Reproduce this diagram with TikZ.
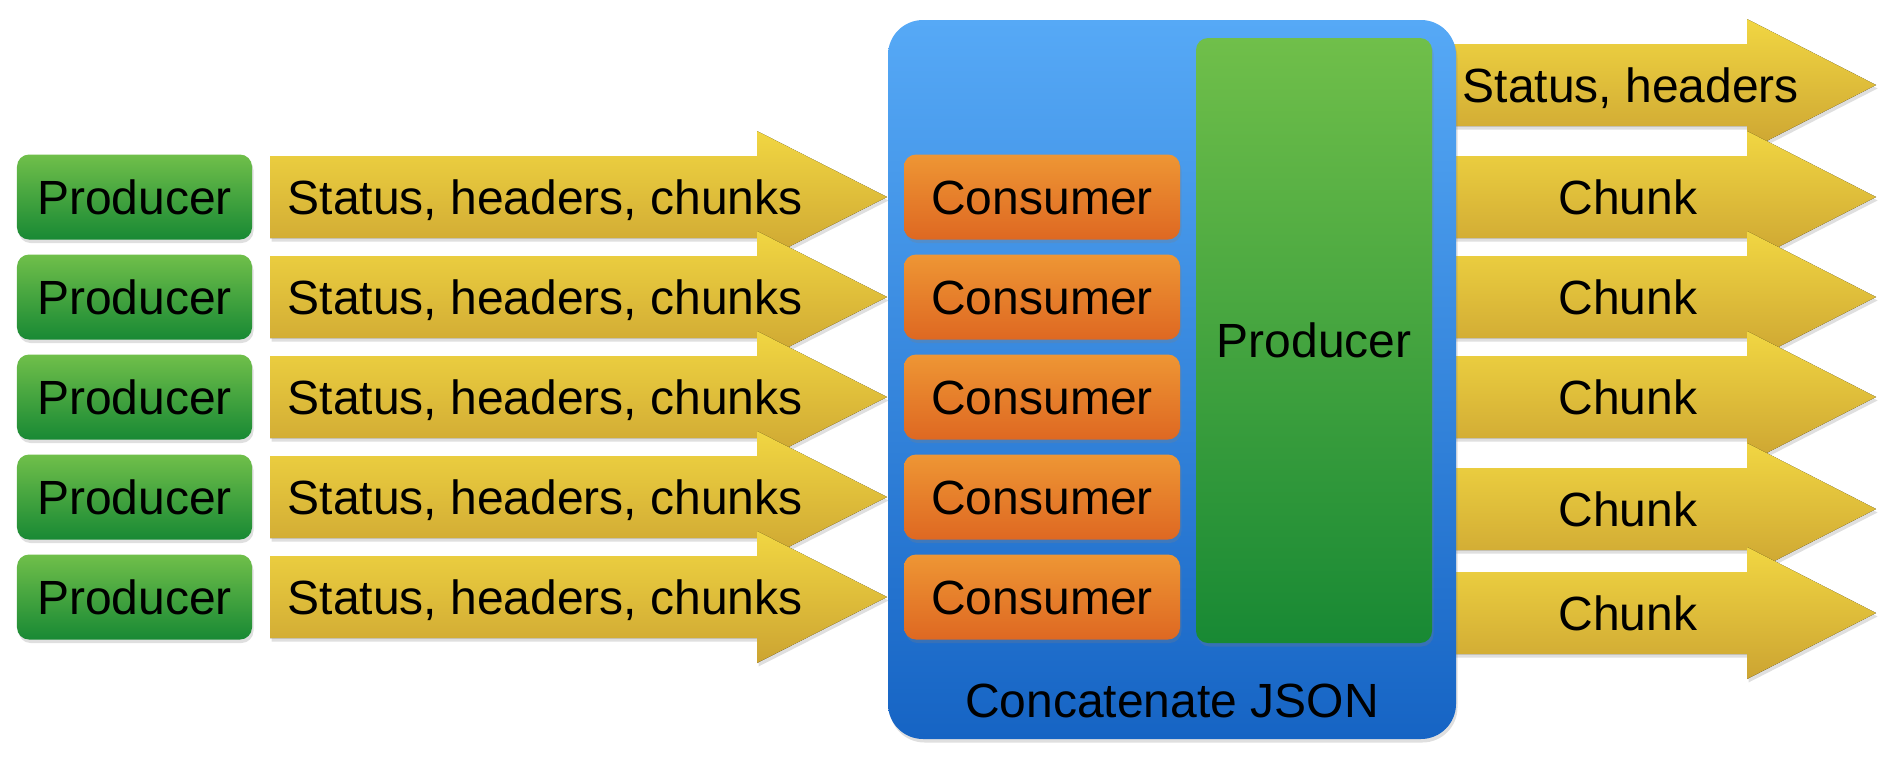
\documentclass[tikz,border=0pt]{standalone}
\usepackage{fontspec}
\setmainfont{Liberation Sans}
\usetikzlibrary{shadows}

\definecolor{grtop}{RGB}{112,191,74}
\definecolor{grbot}{RGB}{24,137,52}
\definecolor{ortop}{RGB}{238,150,52}
\definecolor{orbot}{RGB}{222,104,34}
\definecolor{bltop}{RGB}{86,169,246}
\definecolor{blbot}{RGB}{22,100,196}
\definecolor{yltop}{RGB}{241,214,66}
\definecolor{ylbot}{RGB}{204,164,50}

\begin{document}
\begin{tikzpicture}[font=\fontsize{13.66}{16}\selectfont,
    shade/.style={drop shadow={opacity=.25,shadow xshift=.015cm,shadow yshift=-.035cm}},
    box/.style={shade,rounded corners=.12cm,inner sep=0pt,text height=.344cm,text depth=0pt},
    prod/.style={box,top color=grtop,bottom color=grbot,minimum width=2.35cm,minimum height=.85cm},
    cons/.style={box,top color=ortop,bottom color=orbot,minimum width=2.76cm,minimum height=.85cm},
    fat/.style={shade,top color=yltop,bottom color=ylbot},
    txt/.style={inner sep=0pt,text height=.344cm,text depth=0pt}]
    \useasboundingbox (0,0) rectangle (18.9,7.58);

    % outgoing arrows, behind the big box
    \fill [fat] (14.46,7.14) -- (17.47,7.14) -- (17.47,7.39) -- (18.76,6.73)
        -- (17.47,6.07) -- (17.47,6.32) -- (14.46,6.32) -- cycle;
    \node [txt,anchor=west] (out0) at (14.62,6.73) {Status, headers};
    \foreach \y [count=\i] in {5.61,4.61,3.61,2.49,1.45} {
        \fill [fat] (14.46,\y+.41) -- (17.47,\y+.41) -- (17.47,\y+.66) -- (18.76,\y)
            -- (17.47,\y-.66) -- (17.47,\y-.41) -- (14.46,\y-.41) -- cycle;
        \node [txt] (out\i) at (16.28,\y) {Chunk};
    }

    % the concatenating stage
    \node [shade,rounded corners=.35cm,top color=bltop,bottom color=blbot,
        minimum width=5.68cm,minimum height=7.19cm] (json) at (11.72,3.785) {};
    \node [txt] (name) at (11.72,.58) {Concatenate JSON};
    \node [box,top color=grtop,bottom color=grbot,minimum width=2.36cm,
        minimum height=6.05cm] (hub) at (13.14,4.175) {Producer};

    % producers, incoming arrows and consumers
    \foreach \y [count=\i] in {5.61,4.61,3.61,2.61,1.61} {
        \node [prod] (prod\i) at (1.345,\y) {Producer};
        \fill [fat] (2.70,\y+.41) -- (7.57,\y+.41) -- (7.57,\y+.66) -- (8.87,\y)
            -- (7.57,\y-.66) -- (7.57,\y-.41) -- (2.70,\y-.41) -- cycle;
        \node [txt,anchor=west] (flow\i) at (2.87,\y) {Status, headers, chunks};
        \node [cons] (cons\i) at (10.42,\y) {Consumer};
    }
\end{tikzpicture}
\end{document}
